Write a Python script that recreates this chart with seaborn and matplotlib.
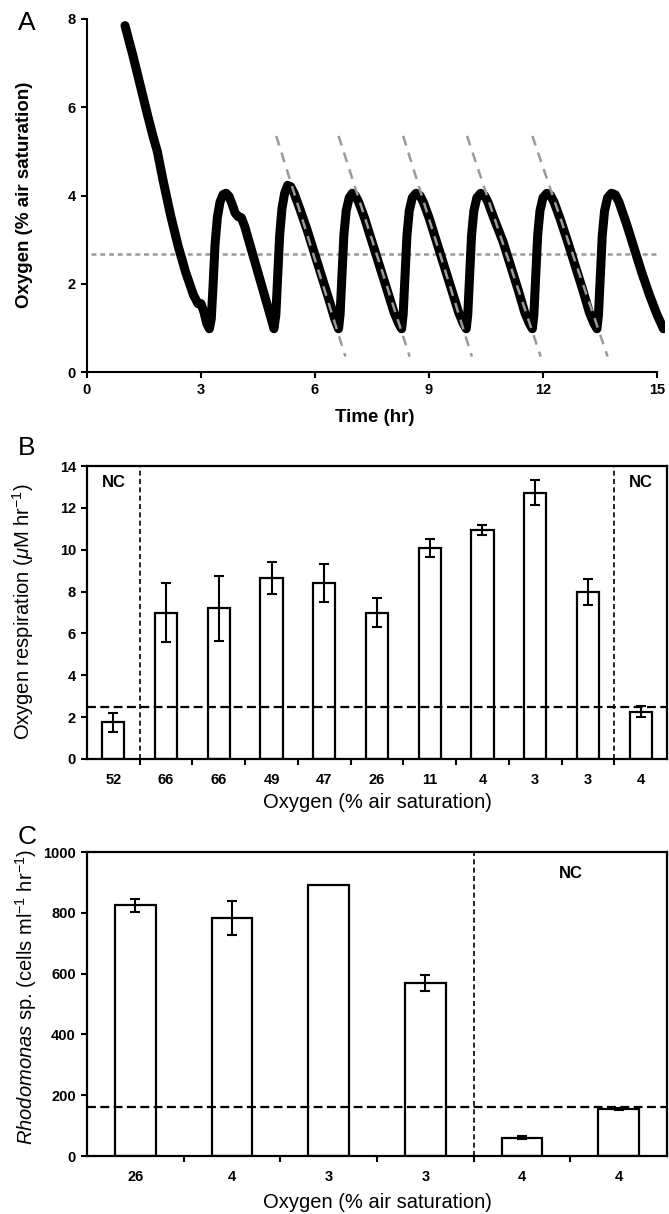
import numpy as np
import pandas as pd
import seaborn as sns
import matplotlib.pyplot as plt

# ---- Panel A: oxygen trace
t_hr = [1.00, 1.20, 1.40, 1.60, 1.75, 1.85, 2.00, 2.20, 2.40, 2.60, 2.80, 2.92, 3.00, 3.08, 3.15, 3.22,
        3.27, 3.32, 3.37, 3.43, 3.50, 3.58, 3.66, 3.74,
        3.82, 3.90, 3.98, 4.06, 4.15, 4.30, 4.50, 4.70, 4.85, 4.92,
        4.97, 5.02, 5.07, 5.13, 5.20, 5.28, 5.36,
        5.45, 5.60, 5.80, 6.00, 6.20, 6.40, 6.52, 6.62,
        6.66, 6.71, 6.76, 6.82, 6.90, 6.98, 7.06,
        7.15, 7.30, 7.50, 7.70, 7.90, 8.08, 8.20, 8.28,
        8.32, 8.37, 8.42, 8.48, 8.56, 8.66, 8.76,
        8.85, 9.00, 9.20, 9.40, 9.60, 9.78, 9.90, 9.98,
        10.02, 10.07, 10.12, 10.18, 10.26, 10.36, 10.46,
        10.55, 10.70, 10.95, 11.15, 11.35, 11.52, 11.64, 11.72,
        11.76, 11.81, 11.86, 11.92, 12.00, 12.10, 12.20,
        12.29, 12.44, 12.65, 12.85, 13.05, 13.22, 13.34, 13.42,
        13.46, 13.51, 13.56, 13.62, 13.70, 13.80, 13.90,
        14.00, 14.20, 14.40, 14.60, 14.80, 15.00, 15.17]
o2_sat = [7.85, 7.20, 6.50, 5.80, 5.30, 5.00, 4.35, 3.55, 2.85, 2.25, 1.75, 1.55, 1.55, 1.35, 1.10, 0.98,
          1.20, 2.00, 2.90, 3.50, 3.85, 4.02, 4.05, 3.98,
          3.80, 3.60, 3.52, 3.50, 3.30, 2.85, 2.25, 1.65, 1.20, 0.98,
          1.30, 2.20, 3.10, 3.70, 4.05, 4.23, 4.20,
          4.05, 3.70, 3.20, 2.65, 2.10, 1.55, 1.20, 0.98,
          1.30, 2.20, 3.10, 3.65, 3.95, 4.05, 4.00,
          3.85, 3.50, 2.95, 2.40, 1.85, 1.35, 1.10, 0.98,
          1.30, 2.20, 3.10, 3.65, 3.95, 4.05, 4.00,
          3.85, 3.50, 2.95, 2.40, 1.85, 1.35, 1.10, 0.98,
          1.30, 2.20, 3.10, 3.65, 3.95, 4.05, 4.00,
          3.85, 3.50, 2.95, 2.40, 1.85, 1.35, 1.10, 0.98,
          1.30, 2.20, 3.10, 3.65, 3.95, 4.05, 4.00,
          3.85, 3.50, 2.95, 2.40, 1.85, 1.35, 1.10, 0.98,
          1.30, 2.20, 3.10, 3.65, 3.95, 4.05, 4.02,
          3.85, 3.35, 2.80, 2.25, 1.75, 1.30, 0.98]

# fitted drawdown lines (start/end)
fit_t0 = [4.98, 6.62, 8.32, 10.00, 11.72]
fit_t1 = [6.80, 8.49, 10.13, 11.94, 13.70]
fit_y0 = 5.35
fit_y1 = 0.35
mean_o2 = 2.67

# ---- Panel B: respiration
resp_labels = ['52', '66', '66', '49', '47', '26', '11', '4', '3', '3', '4']
resp_mean = [1.75, 7.0, 7.2, 8.65, 8.4, 7.0, 10.07, 10.94, 12.72, 8.0, 2.25]
resp_err = [0.47, 1.4, 1.56, 0.77, 0.92, 0.7, 0.42, 0.23, 0.6, 0.62, 0.26]
resp_limit = 2.5

# ---- Panel C: Rhodomonas grazing
graz_labels = ['26', '4', '3', '3', '4', '4']
graz_mean = [825, 783, 893, 570, 60, 155]
graz_err = [21, 57, np.nan, 27, 5, 4]
graz_limit = 161

sns.set_style('white')
plt.rcParams['font.family'] = ['Liberation Sans', 'DejaVu Sans']
plt.rcParams['mathtext.fontset'] = 'custom'
plt.rcParams['mathtext.rm'] = 'Liberation Sans'
plt.rcParams['mathtext.it'] = 'Liberation Sans:italic'
plt.rcParams['mathtext.bf'] = 'Liberation Sans:bold'
plt.rcParams['axes.linewidth'] = 1.5
plt.rcParams['text.color'] = 'black'
plt.rcParams['axes.labelcolor'] = 'black'
plt.rcParams['xtick.color'] = 'black'
plt.rcParams['ytick.color'] = 'black'
plt.rcParams['axes.edgecolor'] = 'black'

W, H = 669, 1214
fig = plt.figure(figsize=(W / 100, H / 100), dpi=100)

L = 87 / W
axA = fig.add_axes([L, 1 - 372 / H, 15.2 * 38 / W, (372 - 19) / H])
axB = fig.add_axes([L, 1 - 759 / H, (667 - 87) / W, (759 - 466) / H])
axC = fig.add_axes([L, 1 - 1156 / H, (667 - 87) / W, (1156 - 852) / H])

#############
## Panel A ##
#############
dfA = pd.DataFrame({'Time': t_hr, 'Oxygen': o2_sat})
sns.lineplot(x='Time', y='Oxygen', data=dfA, sort=False, estimator=None,
             color='black', linewidth=6.5, ax=axA, zorder=2)
axA.lines[-1].set_solid_capstyle('round')
axA.lines[-1].set_solid_joinstyle('round')
for a, b in zip(fit_t0, fit_t1):
    axA.plot([a, b], [fit_y0, fit_y1], color='#9a9a9a', lw=1.8,
             dashes=(4, 3), zorder=3)
axA.plot([0.1, 15.0], [mean_o2, mean_o2], color='#9a9a9a', lw=1.8,
         dashes=(2, 1.5), zorder=1)

axA.set_xlim(0, 15.2)
axA.set_ylim(0, 8)
axA.spines['top'].set_visible(False)
axA.spines['right'].set_visible(False)
axA.spines['bottom'].set_bounds(0, 15)
axA.set_xticks([0, 3, 6, 9, 12, 15])
axA.set_yticks([0, 2, 4, 6, 8])
axA.tick_params(axis='both', direction='out', length=4, width=1.5,
                left=True, bottom=True, pad=4)
for lab in axA.get_xticklabels() + axA.get_yticklabels():
    lab.set_fontsize(10.5)
    lab.set_fontweight('bold')
axA.set_xlabel('Time (hr)', fontsize=13.5, fontweight='bold')
axA.set_ylabel('Oxygen (% air saturation)', fontsize=13.5, fontweight='bold')
axA.xaxis.set_label_coords(375 / W, 1 - 418 / H, transform=fig.transFigure)
axA.yaxis.set_label_coords(25 / W, 1 - 195 / H, transform=fig.transFigure)
axA.xaxis.label.set_va('center')
axA.yaxis.label.set_va('center')


def bar_panel(ax, labels, means, errs, limit, seps, nc_x, nc_y, ymax, ystep):
    n = len(labels)
    pos = np.arange(n)
    df = pd.DataFrame({'pos': pos, 'val': means})
    sns.barplot(x='pos', y='val', data=df, color='white', edgecolor='black',
                linewidth=1.6, width=0.42, ax=ax, zorder=2)
    errs = np.array(errs, dtype=float)
    ok = ~np.isnan(errs)
    ax.errorbar(pos[ok], np.array(means)[ok], yerr=errs[ok], fmt='none',
                ecolor='black', elinewidth=1.5, capsize=3.5, capthick=1.5,
                zorder=3)
    ax.axhline(limit, color='black', lw=1.6, dashes=(4, 2), zorder=4)
    for s in seps:
        ax.axvline(s, color='black', lw=1.2, dashes=(3, 2), zorder=4)
    for x in nc_x:
        ax.text(x, nc_y, 'NC', ha='center', va='center', fontsize=12,
                fontweight='bold')
    ax.set_xlim(-0.5, n - 0.5)
    ax.set_ylim(0, ymax)
    ax.set_yticks(np.arange(0, ymax + 1e-9, ystep))
    ax.set_xticks(pos)
    ax.set_xticklabels(labels)
    ax.set_xticks(pos[:-1] + 0.5, minor=True)
    ax.tick_params(axis='x', which='major', length=0, pad=10)
    ax.tick_params(axis='x', which='minor', direction='out', length=4,
                   width=1.5, bottom=True)
    ax.tick_params(axis='y', direction='out', length=4, width=1.5, left=True,
                   pad=4)
    for lab in ax.get_xticklabels() + ax.get_yticklabels():
        lab.set_fontsize(10.5)
        lab.set_fontweight('bold')
    for sp in ax.spines.values():
        sp.set_visible(True)
        sp.set_color('black')
        sp.set_linewidth(1.6)


#############
## Panel B ##
#############
bar_panel(axB, resp_labels, resp_mean, resp_err, resp_limit, [0.5, 9.5],
          [0, 10], 13.2, 14, 2)
axB.set_xlabel('Oxygen (% air saturation)', fontsize=14.5)
axB.set_ylabel(r'Oxygen respiration ($\mathit{\mu}$M hr$^{-1}$)', fontsize=14.5)
axB.xaxis.set_label_coords(377 / W, 1 - 803 / H, transform=fig.transFigure)
axB.yaxis.set_label_coords(23 / W, 1 - 612 / H, transform=fig.transFigure)
axB.xaxis.label.set_va('center')
axB.yaxis.label.set_va('center')

#############
## Panel C ##
#############
bar_panel(axC, graz_labels, graz_mean, graz_err, graz_limit, [3.5],
          [4.5], 928, 1000, 200)
axC.set_xlabel('Oxygen (% air saturation)', fontsize=14.5)
axC.set_ylabel(r'$\mathit{Rhodomonas}$ sp. (cells ml$^{-1}$ hr$^{-1}$)',
               fontsize=14.5)
axC.xaxis.set_label_coords(377 / W, 1 - 1202 / H, transform=fig.transFigure)
axC.yaxis.set_label_coords(26 / W, 1 - 997 / H, transform=fig.transFigure)
axC.xaxis.label.set_va('center')
axC.yaxis.label.set_va('center')

# panel letters
for letter, y in zip(['A', 'B', 'C'], [23, 448, 837]):
    fig.text(27 / W, 1 - y / H, letter, fontsize=19, ha='center', va='center')

plt.savefig('out.png', dpi=100)
